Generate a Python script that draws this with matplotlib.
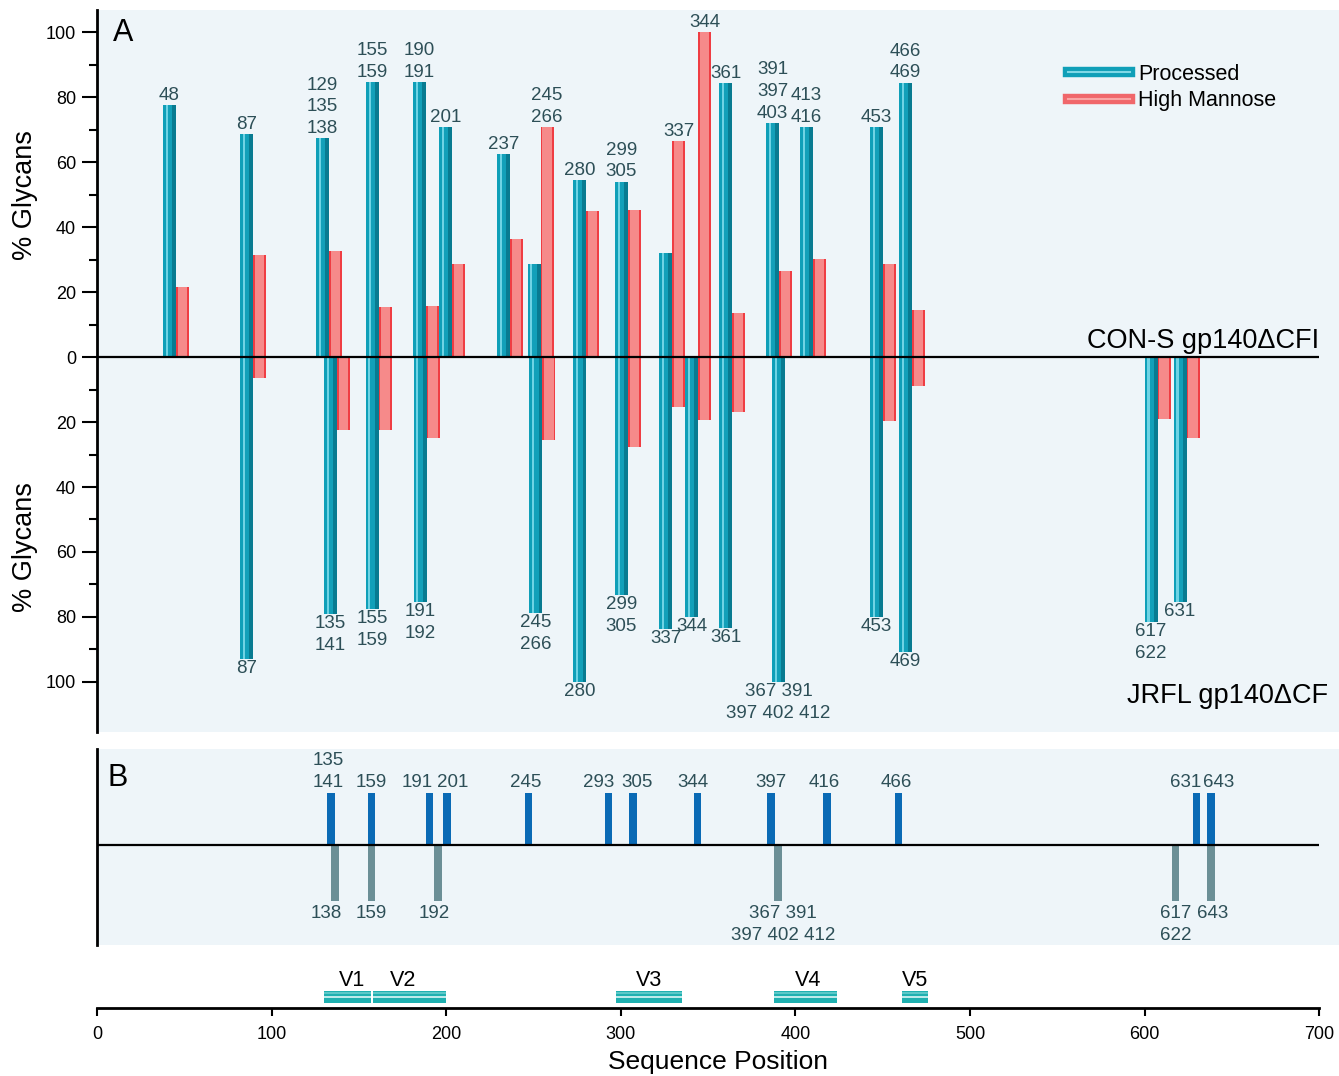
import numpy as np
import matplotlib.pyplot as plt
from matplotlib.lines import Line2D
from matplotlib.legend_handler import HandlerTuple

plt.rcParams['font.family'] = ['Liberation Sans', 'DejaVu Sans']

# Panel A, upper half: CON-S gp140dCFI glycan sites (% processed / % high mannose)
con_pos = [41.5, 85.6, 129.2, 157.8, 184.7, 199.6, 232.8, 250.3, 276.3,
           300.4, 325.6, 340.5, 360.0, 386.9, 406.4, 446.4, 463.0]
con_proc = [77.5, 68.6, 67.3, 84.5, 84.5, 70.8, 62.5, 28.6, 54.4,
            54.0, 32.0, 0.0, 84.2, 72.0, 70.8, 70.8, 84.4]
con_hman = [21.5, 31.3, 32.7, 15.4, 15.7, 28.7, 36.2, 70.7, 44.9,
            45.1, 66.5, 100.0, 13.4, 26.5, 30.2, 28.6, 14.5]
con_labels = ["48", "87", "129\n135\n138", "155\n159", "190\n191", "201", "237",
              "245\n266", "280", "299\n305", "337", "344", "361", "391\n397\n403",
              "413\n416", "453", "466\n469"]

# Panel A, lower half: JRFL gp140dCF
jr_pos = [85.6, 133.7, 157.5, 185.0, 251.4, 276.6, 300.4, 325.6, 340.5,
          360.0, 390.3, 446.4, 463.0, 603.7, 620.3]
jr_proc = [92.9, 79.0, 77.5, 75.4, 78.8, 100.0, 73.2, 83.7, 80.0,
           83.3, 100.0, 80.0, 90.8, 81.5, 75.4]
jr_hman = [6.5, 22.5, 22.5, 25.0, 25.6, 0.0, 27.7, 15.4, 19.4,
           17.0, 0.0, 19.7, 8.9, 19.0, 25.0]
jr_labels = ["87", "135\n141", "155\n159", "191\n192", "245\n266", "280", "299\n305",
             "337", "344", "361", "367 391\n397 402 412", "453", "469", "617\n622", "631"]

# Panel B: site positions
b_con_pos = [134.0, 157.2, 190.4, 200.5, 247.1, 293.0, 307.0, 343.9,
             386.0, 418.1, 459.0, 629.7, 638.0]
b_con_labels = ["135\n141", "159", "191", "201", "245", "293", "305", "344",
                "397", "416", "466", "631", "643"]
b_jr_pos = [136.3, 157.2, 195.3, 390.0, 617.7, 638.0]
b_jr_labels = ["138", "159", "192", "367 391\n397 402 412", "617\n622", "643"]

# variable loops
v_names = ["V1", "V2", "V3", "V4", "V5"]
v_start = [130, 158, 297, 388, 461]
v_end = [157, 200, 335, 424, 476]

W, H = 1339, 1076
XMAX = 711.3
PX = 1.746          # pixels per sequence unit
BG = '#eef5f9'
NUM = '#2d4f57'
BW = 7.45
LS = 1.36

# label nudges (pixels) so neighbouring labels don't collide
b_con_nudge = [-3, 0, -12, 6, -3, -10, 4, -5, 0, -3, -2, -11, 8]
b_jr_nudge = [-9, 0, -4, 5, 0, 2]
v_nudge = [4, -6, 0, 2, 0]


def box(x0, y0, x1, y1):
    return [x0 / W, 1 - y1 / H, (x1 - x0) / W, (y1 - y0) / H]


CYAN = [(0.0, 0.22, '#0f9fb8'), (0.22, 0.16, '#6fd3e4'),
        (0.38, 0.34, '#12a0b9'), (0.72, 0.28, '#087b91')]
RED = [(0.0, 0.14, '#ef3d43'), (0.14, 0.72, '#f68a8a'), (0.86, 0.14, '#ef3d43')]


def striped(ax, x, h, w, stripes):
    x = np.asarray(x, dtype=float)
    for off, fr, col in stripes:
        ax.bar(x - w / 2 + off * w, h, width=fr * w, align='edge',
               color=col, linewidth=0, zorder=2)


fig = plt.figure(figsize=(W / 100, H / 100), dpi=100)

# ---------------- panel A ----------------
axA = fig.add_axes(box(97, 10, 1339, 732))
axA.set_facecolor(BG)
axA.set_xlim(0, XMAX)
axA.set_ylim(-115.4, 106.8)
for s in ['top', 'right', 'bottom']:
    axA.spines[s].set_visible(False)
axA.spines['left'].set_linewidth(2)
axA.set_xticks([])
axA.set_yticks(np.arange(-100, 101, 20))
axA.set_yticklabels([str(abs(v)) for v in range(-100, 101, 20)])
axA.set_yticks(np.arange(-90, 91, 20), minor=True)
axA.tick_params(axis='y', which='major', length=11, width=1.5, labelsize=13, pad=4)
axA.tick_params(axis='y', which='minor', length=6, width=1.5)
axA.hlines(0, 0, 700, color='black', lw=1.6, zorder=3)

con_pos_a = np.array(con_pos)
jr_pos_a = np.array(jr_pos)
striped(axA, con_pos_a, con_proc, BW, CYAN)
striped(axA, con_pos_a + BW, con_hman, BW, RED)
striped(axA, jr_pos_a, -np.array(jr_proc), BW, CYAN)
striped(axA, jr_pos_a + BW, -np.array(jr_hman), BW, RED)

for x, p, m, lab in zip(con_pos, con_proc, con_hman, con_labels):
    lx = x if p >= m else x + BW
    axA.text(lx, max(p, m) + 0.4, lab, ha='center', va='bottom', fontsize=13.5,
             color=NUM, linespacing=LS, multialignment='center')
for x, p, m, lab in zip(jr_pos, jr_proc, jr_hman, jr_labels):
    lx = x if p >= m else x + BW
    axA.text(lx, -max(p, m) - 0.4, lab, ha='center', va='top', fontsize=13.5,
             color=NUM, linespacing=LS, multialignment='center')

axA.text(700, 2.8, 'CON-S gp140\u0394CFI', ha='right', va='baseline', fontsize=19.5)
axA.text(705, -106.5, 'JRFL gp140\u0394CF', ha='right', va='baseline', fontsize=19.5)

handles = [(Line2D([], [], color='#0f9fb8', lw=7.5), Line2D([], [], color='#7fd8e6', lw=1.5)),
           (Line2D([], [], color='#f0676b', lw=7.5), Line2D([], [], color='#f9a5a5', lw=1.5))]
axA.legend(handles, ['Processed', 'High Mannose'],
           handler_map={tuple: HandlerTuple(ndivide=1, pad=0)},
           loc='upper left', bbox_to_anchor=(1068 / W, 1 - 64 / H),
           bbox_transform=fig.transFigure, frameon=False, fontsize=15.5,
           handlelength=2.9, handletextpad=0.35, labelspacing=0.25,
           borderpad=0, borderaxespad=0)

fig.text(113 / W, 1 - 41 / H, 'A', fontsize=22, va='baseline')
fig.text(25 / W, 1 - 195 / H, '% Glycans', rotation=90, ha='center', va='center', fontsize=19.5)
fig.text(25 / W, 1 - 547 / H, '% Glycans', rotation=90, ha='center', va='center', fontsize=19.5)

# ---------------- panel B ----------------
B_UP, B_DOWN = 52, 56
axB = fig.add_axes(box(97, 749, 1339, 945))
axB.set_facecolor(BG)
axB.set_xlim(0, XMAX)
axB.set_ylim(-100, 96)
for s in ['top', 'right', 'bottom']:
    axB.spines[s].set_visible(False)
axB.spines['left'].set_linewidth(2)
axB.set_xticks([])
axB.set_yticks([])
axB.hlines(0, 0, 700, color='black', lw=1.6, zorder=3)
axB.bar(b_con_pos, B_UP, width=4.2, color='#0a6ab5', linewidth=0, zorder=2)
axB.bar(b_jr_pos, -B_DOWN, width=4.2, color='#6b8f96', linewidth=0, zorder=2)
for x, lab, dx in zip(b_con_pos, b_con_labels, b_con_nudge):
    axB.text(x + dx / PX, B_UP + 2, lab, ha='center', va='bottom', fontsize=13.5,
             color=NUM, linespacing=LS, multialignment='center')
for x, lab, dx in zip(b_jr_pos, b_jr_labels, b_jr_nudge):
    axB.text(x + dx / PX, -B_DOWN - 4, lab, ha='center', va='top', fontsize=13.5,
             color=NUM, linespacing=LS, multialignment='center')
fig.text(107 / W, 1 - 786 / H, 'B', fontsize=22, va='baseline')

# ---------------- sequence ruler ----------------
axC = fig.add_axes(box(97, 955, 1339, 1008))
axC.set_facecolor('none')
axC.set_xlim(0, XMAX)
axC.set_ylim(0, 53)
for s in ['top', 'right', 'left']:
    axC.spines[s].set_visible(False)
axC.spines['bottom'].set_linewidth(2)
axC.spines['bottom'].set_bounds(0, 700)
axC.set_yticks([])
axC.set_xticks(range(0, 701, 100))
axC.tick_params(axis='x', length=6, width=1.5, labelsize=13, pad=7)
axC.set_xlabel('Sequence Position', fontsize=19, labelpad=5)

v_len = np.array(v_end) - np.array(v_start)
axC.barh(11.3, v_len, left=v_start, height=12, color='#1fb0b0', linewidth=0)
axC.barh(11.3, v_len, left=v_start, height=2.2, color='#bdeaea', linewidth=0)
axC.barh(15.0, v_len, left=v_start, height=1.5, color='#5cc8c8', linewidth=0)
for s, e, n, dx in zip(v_start, v_end, v_names, v_nudge):
    axC.text((s + e) / 2 + dx / PX, 22, n, ha='center', va='baseline', fontsize=15.5)

fig.savefig('out.png', dpi=100)
